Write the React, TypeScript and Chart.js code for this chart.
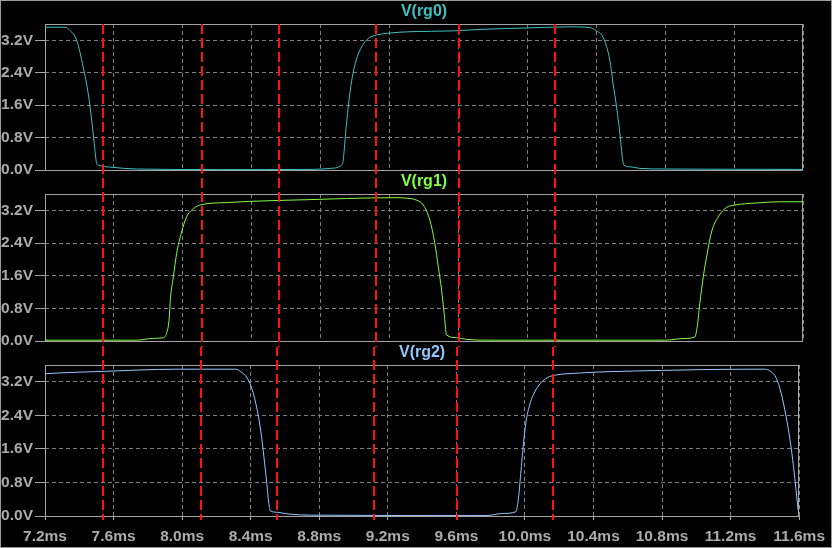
import React, { useEffect, useRef } from 'react';
import { Chart, registerables } from 'chart.js';

Chart.register(...registerables);

// ---- data ----
const xTicks = [7.2, 7.6, 8.0, 8.4, 8.8, 9.2, 9.6, 10.0, 10.4, 10.8, 11.2, 11.6];
const yTicks = [0, 0.8, 1.6, 2.4, 3.2];
const markerTimes = [7.538, 8.113, 8.556, 9.119, 9.601, 10.162];

const seriesNames = ['V(rg0)', 'V(rg1)', 'V(rg2)'];

const rg0Time = [7.2, 7.316, 7.345, 7.384, 7.422, 7.451, 7.471, 7.486, 7.5, 7.509, 7.596, 7.732, 8.2, 8.757, 8.854, 8.922, 8.931, 8.945, 8.96, 8.98, 9.009, 9.047, 9.086, 9.125, 9.183, 9.318, 9.57, 9.744, 9.976, 10.247, 10.363, 10.402, 10.44, 10.479, 10.498, 10.518, 10.537, 10.551, 10.56, 10.595, 10.653, 10.789, 11.6];
const rg0Volt = [3.52, 3.52, 3.44, 3.2, 2.53, 1.88, 1.23, 0.65, 0.16, 0.12, 0.065, 0.025, 0.01, 0.015, 0.04, 0.12, 0.245, 0.9, 1.55, 2.2, 2.74, 3.1, 3.27, 3.33, 3.37, 3.41, 3.43, 3.47, 3.5, 3.53, 3.51, 3.43, 3.27, 2.7, 2.12, 1.55, 0.9, 0.33, 0.12, 0.08, 0.04, 0.025, 0.015];

const rg1Time = [7.2, 7.732, 7.829, 7.887, 7.906, 7.92, 7.929, 7.945, 7.964, 7.993, 8.022, 8.061, 8.109, 8.254, 8.389, 8.718, 8.95, 9.241, 9.29, 9.357, 9.396, 9.434, 9.463, 9.483, 9.502, 9.517, 9.531, 9.589, 9.647, 9.773, 10.798, 10.904, 10.972, 10.986, 11.001, 11.021, 11.044, 11.069, 11.108, 11.156, 11.205, 11.331, 11.466, 11.6];
const rg1Volt = [0.02, 0.02, 0.065, 0.08, 0.19, 0.51, 1.08, 1.57, 2.14, 2.67, 3.04, 3.24, 3.34, 3.39, 3.42, 3.46, 3.49, 3.51, 3.5, 3.45, 3.33, 2.96, 2.39, 1.82, 1.25, 0.68, 0.15, 0.08, 0.04, 0.02, 0.02, 0.06, 0.1, 0.35, 0.92, 1.57, 2.14, 2.67, 3.04, 3.27, 3.33, 3.38, 3.41, 3.41];

const rg2Time = [7.2, 7.277, 7.403, 7.558, 7.742, 7.974, 8.313, 8.342, 8.38, 8.409, 8.438, 8.461, 8.477, 8.492, 8.506, 8.516, 8.554, 8.612, 8.757, 9.773, 9.87, 9.947, 9.961, 9.976, 9.99, 10.005, 10.025, 10.054, 10.092, 10.131, 10.179, 10.324, 10.479, 10.798, 11.021, 11.398, 11.437, 11.466, 11.495, 11.524, 11.547, 11.567, 11.582, 11.594];
const rg2Volt = [3.39, 3.41, 3.43, 3.45, 3.48, 3.5, 3.5, 3.44, 3.29, 3.01, 2.53, 1.97, 1.42, 0.86, 0.3, 0.12, 0.09, 0.05, 0.02, 0.01, 0.06, 0.1, 0.38, 1.02, 1.65, 2.21, 2.61, 2.93, 3.17, 3.3, 3.36, 3.41, 3.44, 3.47, 3.49, 3.5, 3.44, 3.29, 2.93, 2.37, 1.81, 1.18, 0.62, 0.14];

const X_MIN = 7.2;
const X_MAX = 11.6;
const Y_MIN = 0;
const Y_MAX = 3.6;

// ---- styles / layout ----
const FONT_FAMILY = '"Liberation Sans", Arial, Helvetica, sans-serif';
const LABEL_COLOR = '#acacac';
const FRAME_COLOR = '#a4a4a4';
const GRID_COLOR = '#808080';
const MARKER_COLOR = '#ff1010';
const MARKER_START = 24;

type Panel = {
  title: string;
  color: string;
  t: number[];
  v: number[];
  top: number;
  height: number;
  padBottom: number;
  showX: boolean;
  redFrom: number;
  redTo: number;
};

const panels: Panel[] = [
  { title: seriesNames[0], color: '#40c0c0', t: rg0Time, v: rg0Volt, top: 0, height: 182, padBottom: 12, showX: false, redFrom: 24, redTo: 176 },
  { title: seriesNames[1], color: '#80ff40', t: rg1Time, v: rg1Volt, top: 170, height: 183, padBottom: 12, showX: false, redFrom: 176, redTo: 347 },
  { title: seriesNames[2], color: '#90c8ff', t: rg2Time, v: rg2Volt, top: 341, height: 207, padBottom: 0, showX: true, redFrom: 347, redTo: 520 },
];

function PanelChart({ p }: { p: Panel }) {
  const ref = useRef<HTMLCanvasElement | null>(null);

  useEffect(() => {
    if (!ref.current) return;
    const data = p.t.map((x, i) => ({ x, y: p.v[i] }));

    const framePlugin = {
      id: 'frame',
      beforeDatasetsDraw(chart: any) {
        const { ctx, chartArea } = chart;
        ctx.save();
        ctx.strokeStyle = FRAME_COLOR;
        ctx.lineWidth = 1;
        const l = Math.round(chartArea.left) + 0.5;
        const t = Math.round(chartArea.top) + 0.5;
        const r = Math.round(chartArea.right) - 0.5;
        const b = Math.round(chartArea.bottom) + 0.5;
        ctx.strokeRect(l, t, r - l, b - t);
        ctx.restore();
      },
    };

    const markerPlugin = {
      id: 'markers',
      afterDatasetsDraw(chart: any) {
        const { ctx } = chart;
        const xs = chart.scales.x;
        const y1 = p.redFrom - p.top;
        const y2 = p.redTo - p.top;
        ctx.save();
        ctx.strokeStyle = MARKER_COLOR;
        ctx.lineWidth = 2;
        ctx.setLineDash([10, 4]);
        ctx.lineDashOffset = (p.redFrom - MARKER_START) % 14;
        markerTimes.forEach((mt) => {
          const x = Math.round(xs.getPixelForValue(mt));
          ctx.beginPath();
          ctx.moveTo(x, y1);
          ctx.lineTo(x, y2);
          ctx.stroke();
        });
        ctx.restore();
      },
    };

    const tickFont = { family: FONT_FAMILY, size: 15.5, weight: 'bold' as const };

    const chart = new Chart(ref.current, {
      type: 'line',
      data: {
        datasets: [
          {
            label: p.title,
            data,
            borderColor: p.color,
            borderWidth: 1,
            pointRadius: 0,
            fill: false,
            cubicInterpolationMode: 'monotone',
          },
        ],
      },
      options: {
        animation: false,
        responsive: false,
        devicePixelRatio: 1,
        events: [],
        layout: { padding: { left: 0, right: 29, top: 0, bottom: p.padBottom } },
        plugins: {
          legend: { display: false },
          tooltip: { enabled: false },
          title: {
            display: true,
            text: p.title,
            color: p.color,
            fullSize: false,
            font: { family: FONT_FAMILY, size: 16, weight: 'bold' },
            padding: { top: 2, bottom: 2.8 },
          },
        },
        scales: {
          x: {
            type: 'linear',
            min: X_MIN,
            max: X_MAX,
            afterBuildTicks: (scale: any) => {
              scale.ticks = xTicks.map((value) => ({ value }));
            },
            afterFit: (scale: any) => {
              scale.height = p.showX ? 32 : 0;
            },
            border: { display: false, dash: [4, 3] },
            grid: {
              color: GRID_COLOR,
              lineWidth: 1,
              drawTicks: p.showX,
              tickLength: 4,
              tickColor: FRAME_COLOR,
              tickBorderDash: [],
            },
            ticks: {
              display: p.showX,
              color: LABEL_COLOR,
              font: tickFont,
              padding: 7,
              maxRotation: 0,
              autoSkip: false,
              callback: (v: any) => Number(v).toFixed(1) + 'ms',
            },
          },
          y: {
            type: 'linear',
            min: Y_MIN,
            max: Y_MAX,
            afterBuildTicks: (scale: any) => {
              scale.ticks = yTicks.map((value) => ({ value }));
            },
            afterFit: (scale: any) => {
              scale.width = 45;
            },
            border: { display: false, dash: [4, 3] },
            grid: {
              color: GRID_COLOR,
              lineWidth: 1,
              drawTicks: true,
              tickLength: 10,
              tickColor: FRAME_COLOR,
              tickBorderDash: [],
            },
            ticks: {
              color: LABEL_COLOR,
              font: tickFont,
              padding: 2,
              callback: (v: any) => Number(v).toFixed(1) + 'V',
            },
          },
        },
      },
      plugins: [framePlugin, markerPlugin],
    } as any);

    return () => chart.destroy();
  }, [p]);

  return (
    <canvas
      ref={ref}
      width={832}
      height={p.height}
      style={{ position: 'absolute', left: 0, top: p.top, width: 832, height: p.height }}
    />
  );
}

export default function App() {
  return (
    <div
      style={{
        position: 'absolute',
        left: 0,
        top: 0,
        width: 832,
        height: 548,
        background: '#000000',
        overflow: 'hidden',
      }}
    >
      {panels.map((p) => (
        <PanelChart key={p.title} p={p} />
      ))}
      <div
        style={{
          position: 'absolute',
          left: 0,
          top: 0,
          width: 832,
          height: 548,
          boxSizing: 'border-box',
          border: '1px solid #9a9a9a',
          pointerEvents: 'none',
        }}
      />
    </div>
  );
}
